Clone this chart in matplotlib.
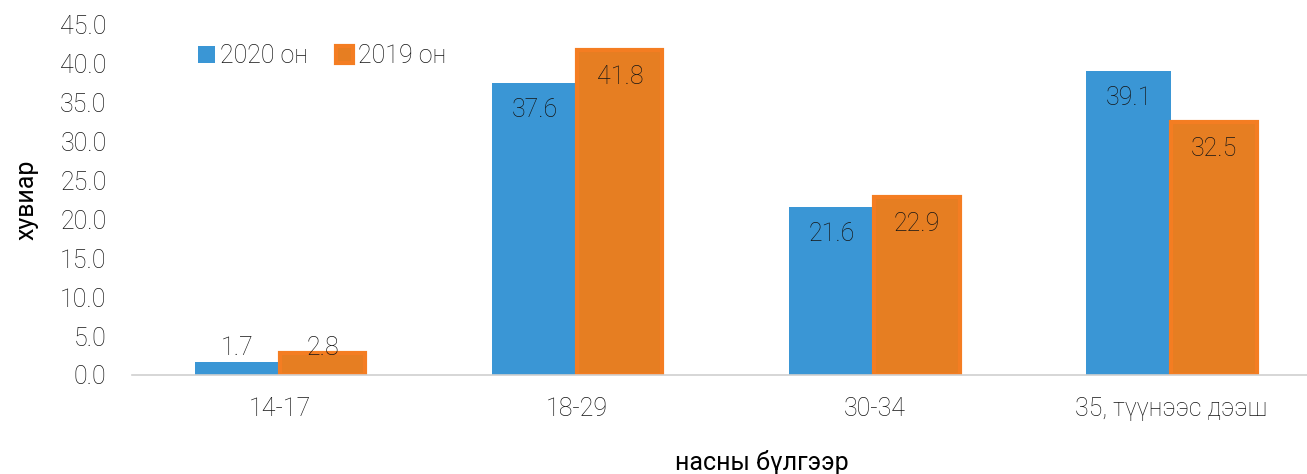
import matplotlib
matplotlib.use("Agg")
import matplotlib.pyplot as plt
import numpy as np

plt.rcParams["font.family"] = ["Roboto", "DejaVu Sans"]

categories = ["14-17", "18-29", "30-34", "35, түүнээс дээш"]
vals_2020 = [1.7, 37.6, 21.6, 39.1]
vals_2019 = [2.8, 41.8, 22.9, 32.5]
series_names = ["2020 он", "2019 он"]
yticks = [0, 5, 10, 15, 20, 25, 30, 35, 40, 45]

BLUE = "#3A96D5"
ORANGE = "#E67E22"
ORANGE_EDGE = "#F47D22"
FS = 18
TXT = "#151515"

fig = plt.figure(figsize=(13.07, 4.74), dpi=100)
ax = fig.add_axes([131.5 / 1307, 1 - 375 / 474, 1188.5 / 1307, 350 / 474])

x = np.arange(len(categories))
w = 0.287
b1 = ax.bar(x - w / 2, vals_2020, w, color=BLUE, label=series_names[0], zorder=2)
b2 = ax.bar(x + w / 2, vals_2019, w, color=ORANGE, edgecolor=ORANGE_EDGE, linewidth=3,
            label=series_names[1], zorder=2)

for bars, vals in ((b1, vals_2020), (b2, vals_2019)):
    for r, v in zip(bars, vals):
        cx = r.get_x() + r.get_width() / 2
        if v < 5:
            ax.annotate(f"{v:.1f}", (cx, 0), xytext=(0, 19.5), textcoords="offset points",
                        ha="center", va="center", fontsize=FS, color=TXT, fontweight="light")
        else:
            ax.annotate(f"{v:.1f}", (cx, v), xytext=(0, -19.5), textcoords="offset points",
                        ha="center", va="center", fontsize=FS, color=TXT, fontweight="light")

ax.set_xlim(-0.5, len(categories) - 0.5)
ax.set_ylim(0, 45)
ax.set_yticks(yticks)
ax.set_yticklabels([f"{t:.1f}" for t in yticks], fontsize=FS, color=TXT, fontweight="light")
ax.set_xticks(x)
ax.set_xticklabels(categories, fontsize=FS, color=TXT, fontweight="light")
ax.tick_params(axis="both", length=0)
ax.tick_params(axis="x", pad=16)
ax.tick_params(axis="y", pad=18)

for s in ("top", "right", "left"):
    ax.spines[s].set_visible(False)
ax.spines["bottom"].set_color("#d0d0d0")
ax.spines["bottom"].set_linewidth(1.2)

ax.set_ylabel("хувиар", fontsize=FS, color="black")
ax.yaxis.set_label_coords(-0.078, 0.5)
ax.set_xlabel("насны бүлгээр", fontsize=FS, color="black")
ax.xaxis.set_label_coords(0.53, -0.215)

leg = ax.legend(loc="upper left", bbox_to_anchor=(0.037, 1.01), ncol=2, frameon=False,
                fontsize=FS, handlelength=0.7, handleheight=0.7, handletextpad=0.2,
                columnspacing=1.1, prop={"size": FS, "weight": "light"})
for t in leg.get_texts():
    t.set_color(TXT)

fig.savefig("out.png", dpi=100)
